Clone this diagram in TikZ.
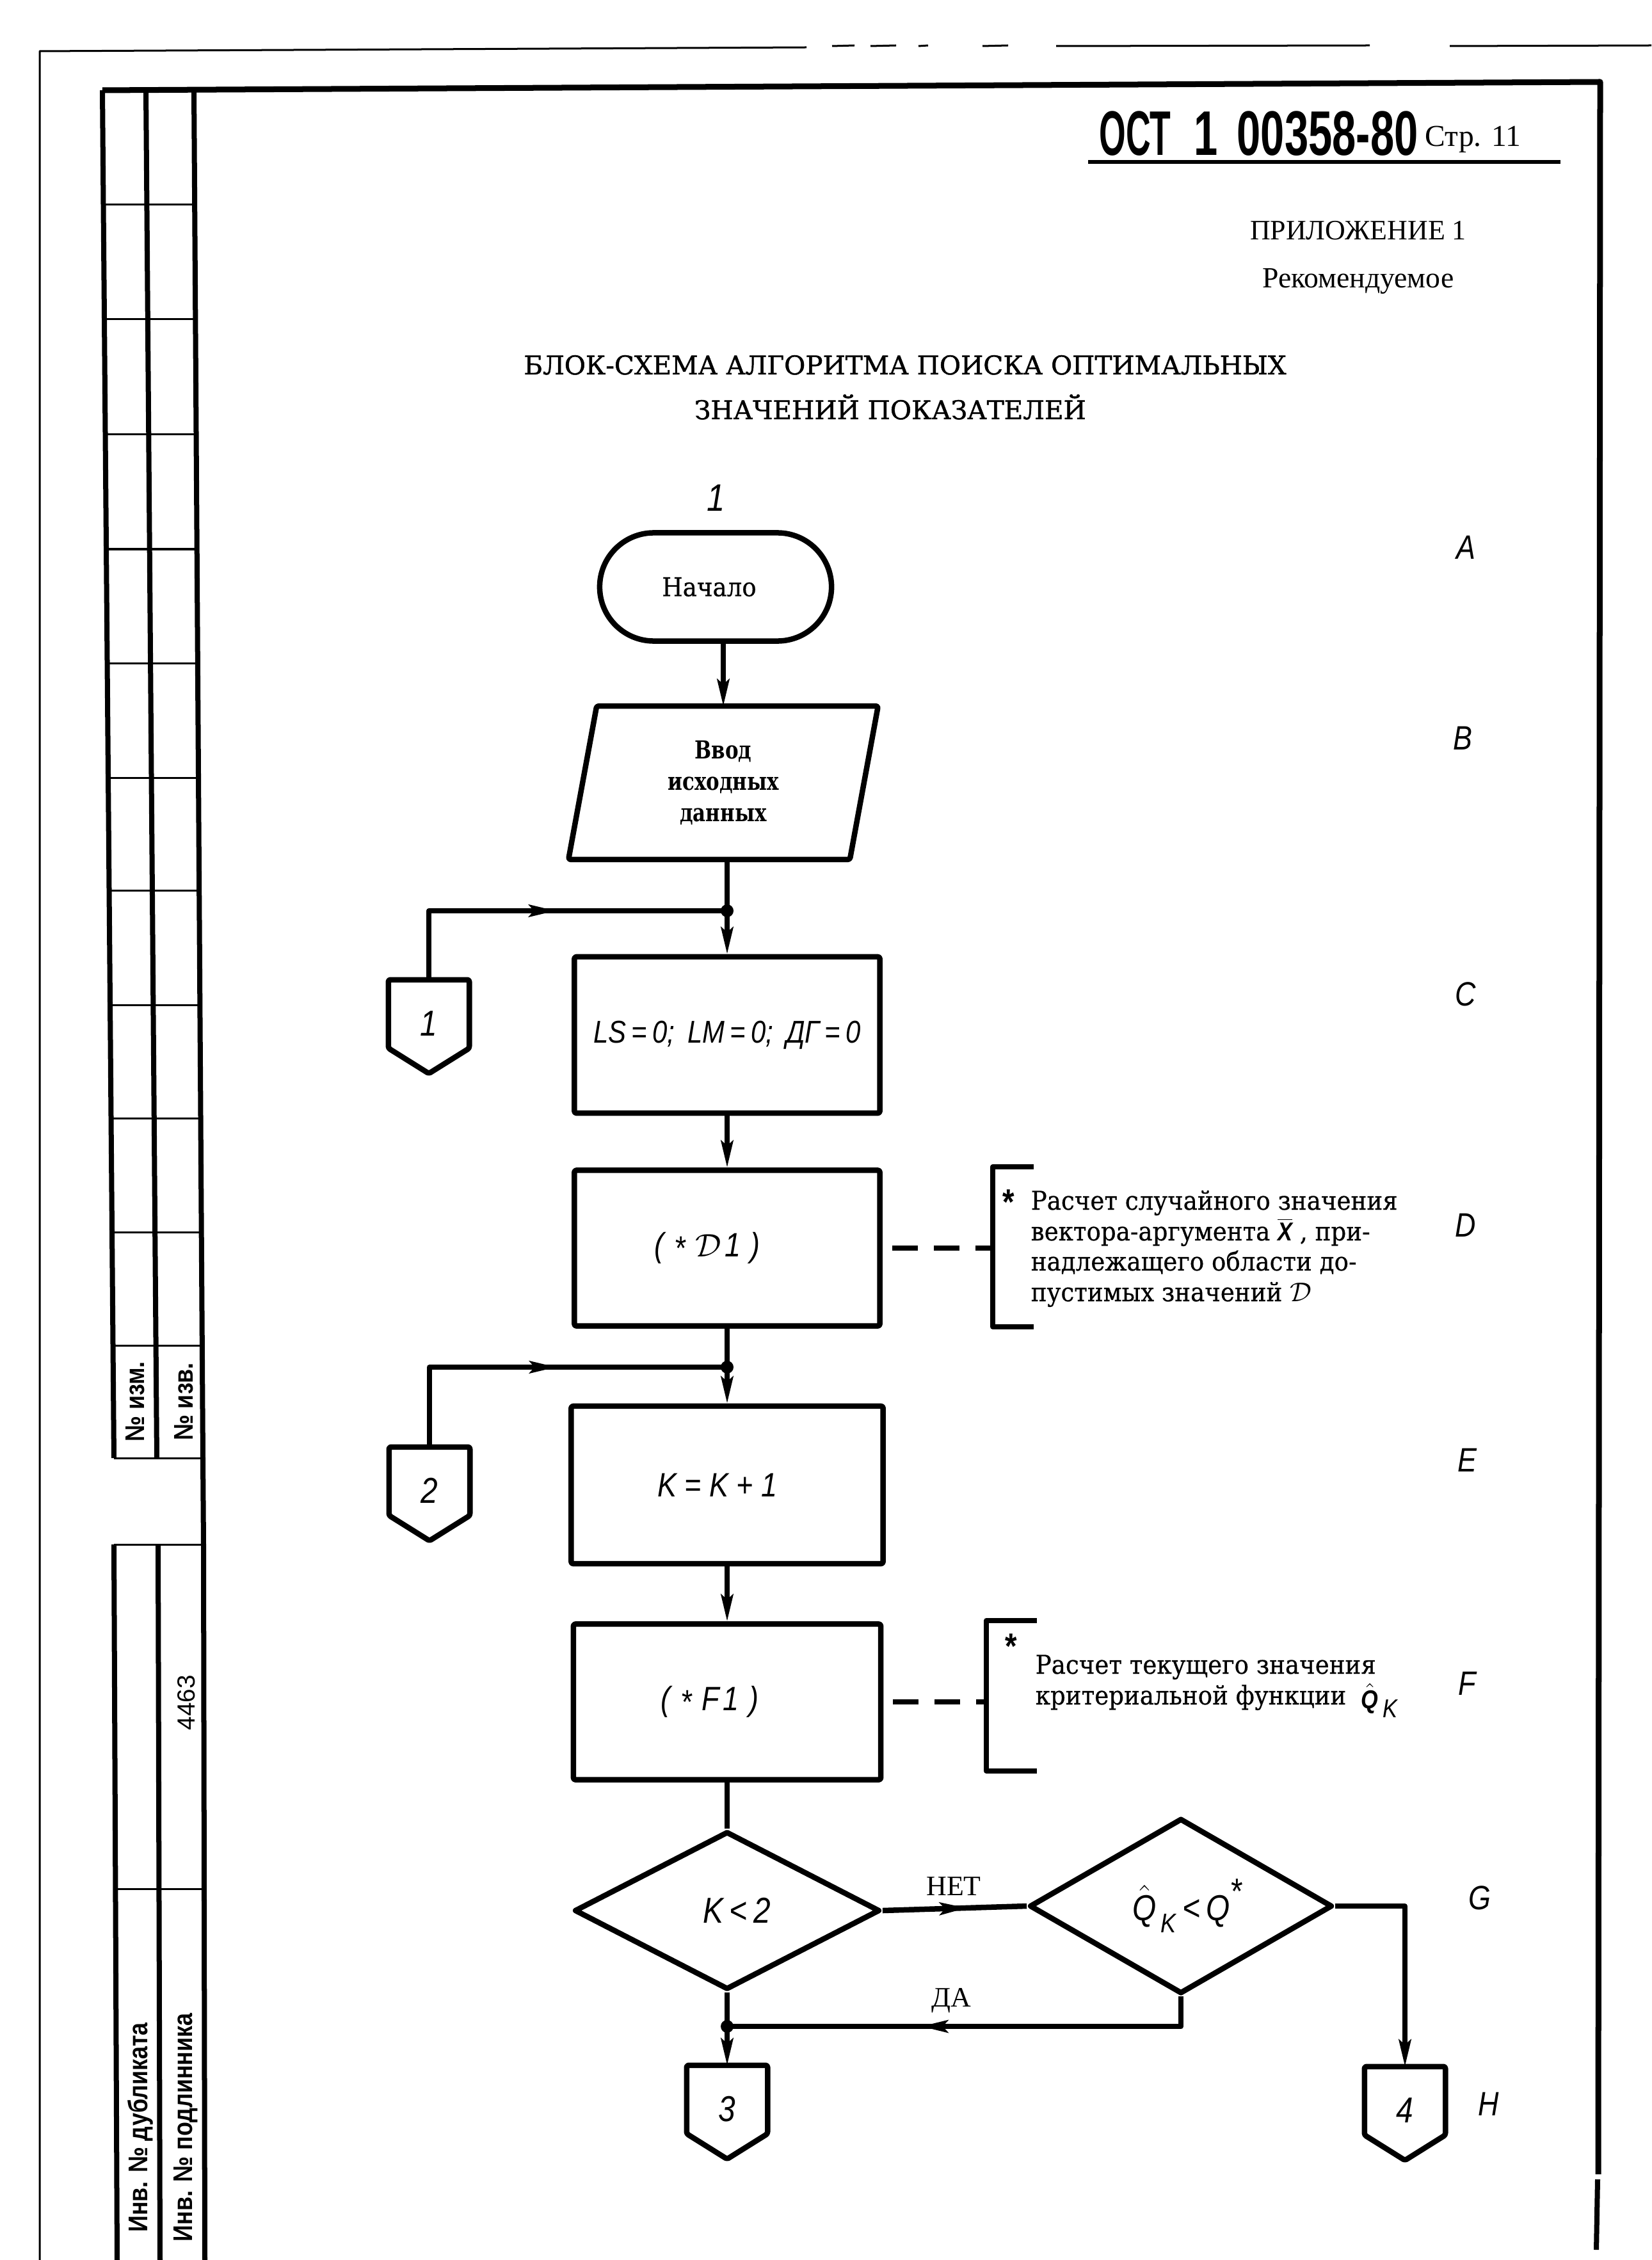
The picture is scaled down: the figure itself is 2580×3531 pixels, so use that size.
\documentclass[tikz,border=0pt]{standalone}
\usepackage{fontspec}
\usepackage{graphicx}
\usetikzlibrary{shapes.geometric,shapes.misc,arrows.meta,calc,decorations.markings}
\setmainfont{Liberation Serif}
\newfontfamily\hdfont[FakeStretch=0.68]{Liberation Sans}
\newfontfamily\tmfont{Liberation Serif}
\newfontfamily\ttlfont[FakeStretch=1.0,FakeBold=1.2]{DejaVu Serif}
\newfontfamily\cmfont[FakeStretch=0.92,FakeBold=0.5]{DejaVu Serif}
\newfontfamily\bxfont[FakeStretch=0.8]{DejaVu Serif}
\newfontfamily\stfont[FakeStretch=0.85]{Liberation Sans}
\newfontfamily\sbfont[FakeStretch=0.85]{Liberation Sans}
\newfontfamily\sgfont{Liberation Sans}
\newcommand\stI{\stfont\itshape}
\newcommand\connshape[1]{%
  \draw[line width=0.085cm,rounded corners=0.03cm] (#1.north west) -- (#1.north east) -- ($(#1.north east)!0.73!(#1.south east)$) -- (#1.south) -- ($(#1.north west)!0.73!(#1.south west)$) -- cycle;}
\begin{document}
\begin{tikzpicture}[x=0.01cm,y=-0.01cm,line join=round,
  thk/.style={line width=0.085cm},
  cln/.style={line width=0.075cm},
  arr/.style={cln,-{Stealth[length=0.42cm,width=0.19cm,inset=0.08cm]}},
  midarr/.style={cln,decoration={markings,mark=at position #1 with {\arrow{Stealth[length=0.42cm,width=0.19cm,inset=0.08cm]}}},postaction={decorate}},
  proc/.style={draw,thk,rectangle,rounded corners=0.03cm,inner sep=0pt,minimum width=4.77cm,minimum height=2.44cm,font=\stI\fontsize{15}{18}\selectfont},
  dec/.style={draw,thk,diamond,inner sep=0pt,minimum width=4.77cm,minimum height=2.47cm,font=\stI\fontsize{16}{19}\selectfont},
  conn/.style={inner sep=0pt,minimum width=1.25cm,minimum height=1.45cm,font=\stI\fontsize{16}{19}\selectfont},
  side/.style={inner sep=0pt,font=\stI\fontsize{15}{18}\selectfont},
  cmt/.style={anchor=base west,inner sep=0pt,font=\cmfont\fontsize{11.5}{14}\selectfont},
  dsh/.style={line width=0.08cm,dash pattern=on 0.4cm off 0.25cm,dash phase=0.5cm},
  brk/.style={line width=0.08cm},
  strip/.style={inner sep=0pt,rotate=90,font=\sbfont\bfseries\fontsize{12}{14}\selectfont},
  ]
\useasboundingbox (0,0) rectangle (2580,3531);
\fill[white] (0,0) rectangle (2580,3531);

% ---------- page frames ----------
\draw[line width=0.03cm] (62,3531) -- (62,80) -- (1260,74);
\foreach \a/\b in {1300/1335,1360/1400,1435/1450,1535/1575,1650/2140,2265/2580}
  \draw[line width=0.03cm] (\a,72) -- (\b,71);
\draw[line width=0.09cm] (160,141) -- (2500,128) -- (2497,3397);
\draw[line width=0.08cm] (2496,3405) -- (2494,3515);

% left strip (upper)
\draw[line width=0.08cm] (160,141) -- (178,2278);
\draw[line width=0.08cm] (228,141) -- (245,2278);
\draw[line width=0.08cm] (303,141) -- (317,2278) -- (318,2413) -- (320,3531);
\foreach \yy in {320,499,679,858,1036,1215,1391,1570,1747,1925,2102,2278}
  \draw[line width=0.03cm] ({160+0.0084*(\yy-141)},\yy) -- ({303+0.0066*(\yy-141)},\yy);
% left strip (lower)
\draw[line width=0.03cm] (178,2413) -- (318,2413);
\draw[line width=0.08cm] (178,2413) -- (183,3531);
\draw[line width=0.08cm] (247,2413) -- (250,3531);
\draw[line width=0.03cm] (180,2951) -- (319,2951);

\node[strip] (nizm) at (211,2190) {№ изм.};
\node[strip] (nizv) at (287,2190) {№ изв.};
\node[inner sep=0pt,rotate=90,font=\sgfont\fontsize{11}{13}\selectfont] (inv) at (291,2660) {4463};
\node[strip] (dub) at (219,3324) {Инв. № дубликата};
\node[strip] (podl) at (290,3324) {Инв. № подлинника};

% ---------- header ----------
\node[anchor=base west,inner sep=0pt,font=\hdfont\bfseries\fontsize{28}{32}\selectfont] (hd) at (1717,243) {\scalebox{0.8}[1]{ОСТ}\hspace{0.36cm}1\hspace{0.3cm}00358-80};
\draw[line width=0.06cm] (1700,253) -- (2438,253);
\node[anchor=base west,inner sep=0pt,font=\tmfont\fontsize{13.5}{16}\selectfont] (pg) at (2226,229) {Стр. 11};
\node[anchor=base,inner sep=0pt,font=\tmfont\fontsize{12.5}{15}\selectfont] (app) at (2122,375) {ПРИЛОЖЕНИЕ 1};
\node[anchor=base,inner sep=0pt,font=\tmfont\fontsize{13}{15}\selectfont] (rec) at (2122,450) {Рекомендуемое};
\node[anchor=base,inner sep=0pt,font=\ttlfont\fontsize{11.5}{13}\selectfont] (t1) at (1414,585) {БЛОК-СХЕМА АЛГОРИТМА ПОИСКА ОПТИМАЛЬНЫХ};
\node[anchor=base,inner sep=0pt,font=\ttlfont\fontsize{11.5}{13}\selectfont] (t2) at (1391,655) {ЗНАЧЕНИЙ ПОКАЗАТЕЛЕЙ};

% ---------- flowchart ----------
\node[font=\stI\fontsize{17}{19}\selectfont,inner sep=0pt] (lbl1) at (1119,778) {1};
\node[draw,thk,rounded rectangle,minimum width=3.62cm,minimum height=1.69cm,inner sep=0pt,font=\cmfont\fontsize{11.5}{13}\selectfont] (start) at (1118,917) {Начало\kern0.2cm};

\node[inner sep=0pt,minimum width=4.38cm,minimum height=2.38cm,align=center,font=\bxfont\bfseries\fontsize{11}{14}\selectfont] (inp) at (1130,1223) {Ввод\\исходных\\данных};
\draw[thk,rounded corners=0.03cm] ($(inp.north west)+(22,0)$) -- ($(inp.north east)+(22,0)$) -- ($(inp.south east)+(-22,0)$) -- ($(inp.south west)+(-22,0)$) -- cycle;

\node[proc,font=\stI\fontsize{14}{17}\selectfont] (init) at (1136,1617) {LS\,=\,0;\, LM\,=\,0;\, ДГ\,=\,0};
\node[proc,minimum height=2.43cm] (pD) at (1136,1950) {(\hspace{0.3em}\raisebox{-0.1em}{*}\hspace{0.3em}$\mathcal{D}$\hspace{0.1em}1\hspace{0.3em})\kern0.62cm};
\node[proc,minimum width=4.87cm,minimum height=2.46cm] (pE) at (1136,2320) {K = K + 1\kern0.3cm};
\node[proc,minimum width=4.8cm,minimum height=2.43cm] (pF) at (1136,2659) {(\hspace{0.3em}\raisebox{-0.1em}{*}\hspace{0.3em}F\hspace{0.1em}1\hspace{0.3em})\kern0.54cm};
\node[dec] (d1) at (1136,2985) {\kern0.3cm K\,<\,2};
\node[dec,minimum width=4.73cm] (d2) at (1845,2978) {\kern0.2cm$\hat{\mbox{Q}}$\kern0.12em\raisebox{-0.35em}{\fontsize{12}{14}\selectfont K}\,<\,Q\raisebox{0.45em}{*}};

\node[conn] (c1) at (670,1604) {\raisebox{0.1cm}{1}};
\node[conn] (c2) at (671,2334) {\raisebox{0.1cm}{2}};
\node[conn] (c3) at (1136,3300) {\raisebox{0.1cm}{3}};
\node[conn] (c4) at (2195,3302) {\raisebox{0.1cm}{4}};
\foreach \n in {c1,c2,c3,c4} {\connshape{\n}}

\coordinate (j1) at (1136,1423);
\coordinate (j2) at (1136,2136);
\coordinate (j3) at (1136,3166);

\draw[arr] (start.south -| inp.north) -- (inp.north);
\draw[cln] (inp.south -| j1) -- (j1);
\draw[arr] (j1) -- (init.north);
\draw[midarr=3.06cm] (c1.north) |- (j1);
\draw[arr] (init.south) -- (pD.north);
\draw[cln] (pD.south) -- (j2);
\draw[arr] (j2) -- (pE.north);
\draw[midarr=3.23cm] (c2.north) |- (j2);
\draw[arr] (pE.south) -- (pF.north);
\draw[cln] (pF.south) -- (d1.north);
\draw[midarr=1.32cm,thk] (d1.east) -- (d2.west);
\draw[arr] (d2.east) -| (c4.north);
\draw[midarr=4.53cm,thk] (d2.south) |- (j3);
\draw[cln] (d1.south) -- (j3);
\draw[arr] (j3) -- (c3.north);
\foreach \j in {j1,j2,j3} \fill (\j) circle (0.1cm);

\node[inner sep=0pt,font=\tmfont\fontsize{12.5}{15}\selectfont] (net) at (1490,2947) {НЕТ};
\node[inner sep=0pt,font=\tmfont\fontsize{12.5}{15}\selectfont] (da) at (1486,3126) {ДА};

% ---------- comments ----------
\coordinate (bD) at (1551,1950);
\draw[dsh] (pD.east) -- (bD);
\draw[brk] (1615,1823) -- (1551,1823) -- (1551,2073) -- (1615,2073);
\node[inner sep=0pt,font=\stI\bfseries\fontsize{16}{19}\selectfont] (astD) at (1574,1878) {*};
\node[cmt] (dl1) at (1610,1890) {Расчет случайного значения};
\node[cmt] (dl2) at (1610,1938) {вектора-аргумента $\overline{\mbox{\stI\bfseries X}}$ , при-};
\node[cmt] (dl3) at (1610,1985) {надлежащего области до-};
\node[cmt] (dl4) at (1610,2033) {пустимых значений $\mathcal{D}$};

\coordinate (bF) at (1541,2659);
\draw[dsh] (pF.east) -- (bF);
\draw[brk] (1620,2532) -- (1541,2532) -- (1541,2767) -- (1620,2767);
\node[inner sep=0pt,font=\stI\bfseries\fontsize{16}{19}\selectfont] (astF) at (1578,2572) {*};
\node[cmt] (fl1) at (1617,2615) {Расчет текущего значения};
\node[cmt] (fl2) at (1617,2663) {критериальной функции \ \raisebox{-0.15em}{$\hat{\mbox{\stI\bfseries Q}}$}\,\raisebox{-0.5em}{\stI K}};

% ---------- side letters ----------
\node[side] (sA) at (2290,855) {A};
\node[side] (sB) at (2285,1153) {B};
\node[side] (sC) at (2290,1553) {C};
\node[side] (sD) at (2290,1914) {D};
\node[side] (sE) at (2292,2281) {E};
\node[side] (sF) at (2292,2630) {F};
\node[side] (sG) at (2312,2965) {G};
\node[side] (sH) at (2326,3287) {H};
\end{tikzpicture}
\end{document}
